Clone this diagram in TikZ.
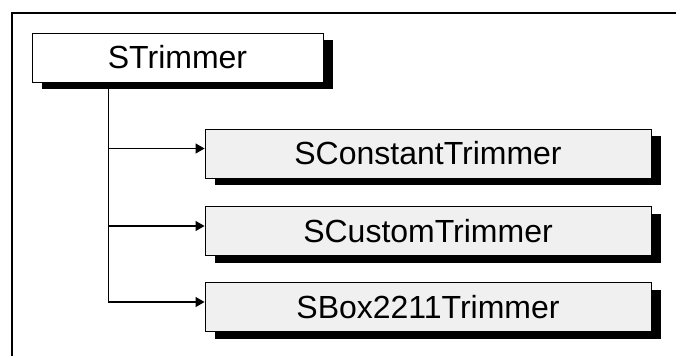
\documentclass[tikz,border=0pt]{standalone}
\usepackage{fontspec}
\setmainfont{Liberation Sans}
\usetikzlibrary{arrows.meta,shadows}
\begin{document}
\begin{tikzpicture}[x=1pt,y=-1pt,
  classbox/.style={draw=black, line width=0.9pt, inner sep=0pt,
    minimum height=49pt, font=\fontsize{32}{36}\selectfont,
    general shadow={fill=black, shadow xshift=10pt, shadow yshift=-7pt}},
  rootbox/.style={classbox, fill=white, minimum width=291pt},
  childbox/.style={classbox, fill=black!6, minimum width=446pt},
  link/.style={draw=black, line width=1.2pt},
  linkarrow/.style={link, -{Triangle[length=9pt,width=10pt]}}
]
\useasboundingbox (0,0) rectangle (676,356);
% frame edges
\draw[line width=2pt] (12,356) -- (12,12.5) -- (676,12.5);

% class boxes
\node[rootbox]  (root) at (177.5,57.5) {STrimmer};
\node[childbox] (c1)   at (428,153.5)  {SConstantTrimmer};
\node[childbox] (c2)   at (428,231)    {SCustomTrimmer};
\node[childbox] (c3)   at (428,307)    {SBox2211Trimmer};

% inheritance tree
\coordinate (trunk) at ([xshift=77pt]root.south west);
\coordinate (e1) at ([yshift=5pt]c1.west);
\coordinate (e2) at ([yshift=5pt]c2.west);
\coordinate (e3) at ([yshift=5pt]c3.west);
\draw[linkarrow] (trunk) |- (e3);
\draw[linkarrow] (trunk |- e1) -- (e1);
\draw[linkarrow] (trunk |- e2) -- (e2);
\end{tikzpicture}
\end{document}
